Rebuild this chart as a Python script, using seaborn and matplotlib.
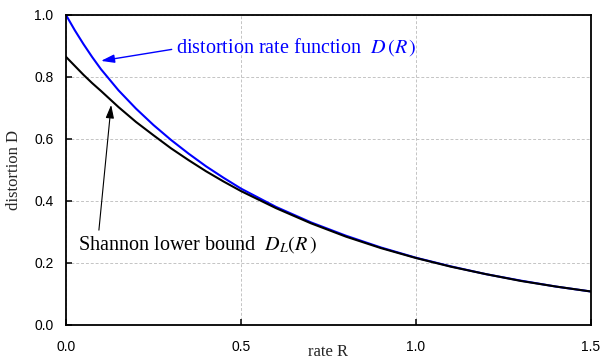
import pandas as pd
import matplotlib
matplotlib.use("Agg")
import matplotlib.pyplot as plt
import seaborn as sns

# values
rate = [0, 0.025, 0.05, 0.075, 0.1, 0.15, 0.2, 0.25, 0.3, 0.35, 0.4, 0.45,
        0.5, 0.6, 0.7, 0.8, 0.9, 1.0, 1.1, 1.2, 1.3, 1.4, 1.5]
dist_rate = [1.0, 0.951, 0.906, 0.864, 0.825, 0.757, 0.698, 0.645, 0.597, 0.553, 0.512, 0.475,
             0.440, 0.381, 0.331, 0.288, 0.250, 0.217, 0.189, 0.164, 0.143, 0.124, 0.108]
shannon_lb = [0.865, 0.836, 0.807, 0.780, 0.755, 0.703, 0.655, 0.612, 0.570, 0.532, 0.496, 0.463,
              0.432, 0.377, 0.328, 0.285, 0.248, 0.216, 0.188, 0.164, 0.142, 0.124, 0.108]
x_ticks = [0.0, 0.5, 1.0, 1.5]
y_ticks = [0.0, 0.2, 0.4, 0.6, 0.8, 1.0]

df = pd.DataFrame({"rate": rate, "D": dist_rate, "DL": shannon_lb})

sns.set_theme(style="white")
plt.rcParams["font.family"] = ["Liberation Sans", "DejaVu Sans"]
plt.rcParams["mathtext.fontset"] = "stix"

SERIF = ["Liberation Serif", "DejaVu Serif"]

fig = plt.figure(figsize=(6.04, 3.6), dpi=100)
ax = fig.add_axes([66 / 604, 1 - 325 / 360, 525 / 604, 310 / 360])

sns.lineplot(data=df, x="rate", y="D", color="#0000ff", lw=1.5, ax=ax, sort=False)
sns.lineplot(data=df, x="rate", y="DL", color="black", lw=1.5, ax=ax, sort=False)

ax.set_xlim(0, 1.5)
ax.set_ylim(0, 1.0)
ax.set_xticks(x_ticks)
ax.set_yticks(y_ticks)
ax.set_xticklabels([f"{v:.1f}" for v in x_ticks], fontsize=10)
ax.set_yticklabels([f"{v:.1f}" for v in y_ticks], fontsize=10)
ax.tick_params(direction="in", length=4, width=1.1, colors="black", pad=9,
               left=True, bottom=True)
ax.tick_params(axis="x", pad=11)
ax.grid(True, color="#c4c4c4", linestyle=(0, (3, 2)), lw=0.7)
for s in ax.spines.values():
    s.set_color("black")
    s.set_linewidth(1.3)

ax.set_xlabel("rate R", family=SERIF, fontsize=12)
ax.set_ylabel("distortion D", family=SERIF, fontsize=12)
ax.xaxis.set_label_coords(0.5, -0.062)
ax.yaxis.set_label_coords(-0.084, 0.5)

# annotations
head = "-|>,head_length=0.8,head_width=0.25"
ax.annotate("", xy=(0.10, 0.852), xytext=(0.302, 0.889),
            arrowprops=dict(arrowstyle=head, color="#0000ff", lw=1.0,
                            mutation_scale=10, shrinkA=0, shrinkB=0))
ax.text(0.315, 0.897, r"distortion rate function  $D\,(R\,)$", color="#0000ff",
        family=SERIF, fontsize=14.5, va="center", ha="left")

ax.annotate("", xy=(0.129, 0.71), xytext=(0.094, 0.306),
            arrowprops=dict(arrowstyle=head, color="black", lw=0.8,
                            mutation_scale=10, shrinkA=0, shrinkB=0))
ax.text(0.034, 0.26, r"Shannon lower bound  $D_L(R\,)$", color="black",
        family=SERIF, fontsize=14.5, va="center", ha="left")

fig.savefig("out.png", dpi=100)
plt.close(fig)
